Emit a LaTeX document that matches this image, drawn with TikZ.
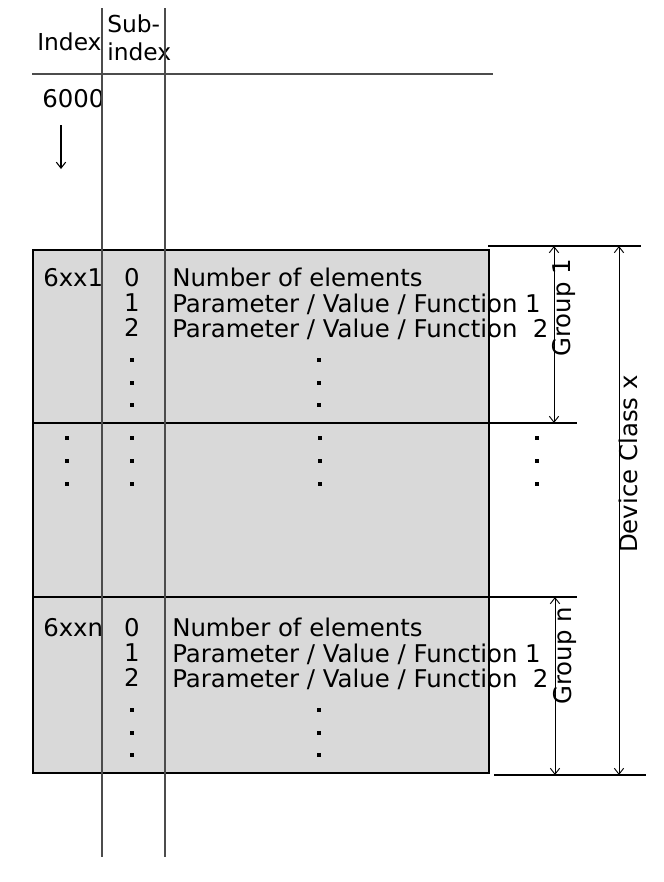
\documentclass[tikz,border=0pt]{standalone}
\usepackage{fontspec}
\setmainfont{DejaVu Sans}
\usetikzlibrary{arrows,arrows.meta,positioning}

\begin{document}
\begin{tikzpicture}[x=0.75pt,y=-0.75pt,>={Straight Barb[length=4.5pt,width=7pt]},font=\fontsize{18.3}{21}\selectfont]
  \tikzstyle{entry}=[anchor=base west,inner sep=0pt]
  \tikzstyle{subnr}=[anchor=base,inner sep=0pt]
  \tikzstyle{column}=[draw=black!70,line width=1.1pt]
  \tikzstyle{divider}=[draw=black,line width=0.8pt]
  \tikzstyle{dim}=[draw=black,line width=0.7pt,<->]
  \tikzstyle{dimlabel}=[rotate=90,inner sep=0pt]
  \tikzstyle{vdot}=[rectangle,fill=black,inner sep=0pt,minimum size=3.4pt]

  \useasboundingbox (0,0) rectangle (664,882);

  % Shaded area of the object groups.
  \fill[black!15] (33,250) rectangle (489,773);

  % Column headings.
  \node [entry,font=\fontsize{17.5}{21}\selectfont] (idx) at (37,50) {Index};
  \node [entry,font=\fontsize{17.5}{21}\selectfont] (sub) at (107,32) {Sub-};
  \node [entry,font=\fontsize{17.5}{21}\selectfont] (subidx) at (107,60) {index};
  \draw [draw=black!70,line width=1.2pt] (32,74) -- (493,74);

  % Start index with arrow.
  \node [entry] (start) at (42,107) {6000};
  \coordinate (arrtop) at (61,125);
  \coordinate (arrbot) at (61,169);
  \draw [->,line width=0.8pt] (arrtop) -- (arrbot);

  % First and last group.
  \foreach \grp/\y in {1/286,n/636} {
    \node [entry] (idx\grp) at (43,\y) {6xx\grp};
    \node [subnr] (s0\grp) at (132,\y) {0};
    \node [subnr] (s1\grp) at (132,\y+25) {1};
    \node [subnr] (s2\grp) at (132,\y+50) {2};
    \node [entry] (t0\grp) at (172,\y) {Number of elements};
    \node [entry] (t1\grp) at (172,\y+26) {Parameter / Value / Function 1};
    \node [entry] (t2\grp) at (172,\y+51) {Parameter / Value / Function \ 2};
    \foreach \dy in {74,97,119} {
      \node [vdot] (ds\grp\dy) at (132,\y+\dy) {};
      \node [vdot] (dt\grp\dy) at (319,\y+\dy) {};
    }
  }

  % Groups in between.
  \foreach \x in {67,132,320,537}
    \foreach \yy in {438,461,484}
      \node [vdot] (dm\x\yy) at (\x,\yy) {};

  % Frame, group borders and extension lines.
  \draw [line width=1.5pt] (33,250) rectangle (489,773);
  \draw [divider] (33,423) -- (577,423);
  \draw [divider] (33,597) -- (577,597);
  \draw [divider] (488,246) -- (641,246);
  \draw [divider] (494,775) -- (646,775);

  % Index and sub-index columns.
  \draw [column] (102,8) -- (102,857);
  \draw [column] (165,8) -- (165,857);

  % Dimensions.
  \coordinate (g1top) at (554,246);
  \coordinate (g1bot) at (554,423);
  \coordinate (gntop) at (555,597);
  \coordinate (gnbot) at (555,775);
  \coordinate (dctop) at (619,246);
  \coordinate (dcbot) at (619,775);
  \draw [dim] (g1top) -- (g1bot);
  \draw [dim] (gntop) -- (gnbot);
  \draw [dim] (dctop) -- (dcbot);
  \node [dimlabel] (g1lab) at (564,308) {Group 1};
  \node [dimlabel] (gnlab) at (565,656) {Group n};
  \node [dimlabel] (dclab) at (628,464) {Device Class x};
\end{tikzpicture}
\end{document}
